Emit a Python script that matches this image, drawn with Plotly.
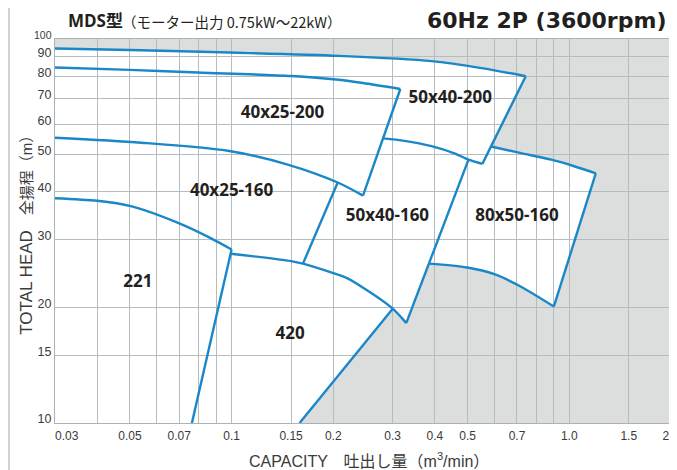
import plotly.graph_objects as go

# ---------------- data (capacity m3/min, head m) ----------------
# 50x40-200 max-head curve
Q_5040_200 = [0.03, 0.05, 0.0985, 0.2077, 0.391, 0.55, 0.743]
H_5040_200 = [94.5, 93.6, 92.2, 90.4, 87.6, 84.0, 80.0]
# 40x25-200 max-head curve
Q_4025_200 = [0.03, 0.05, 0.0795, 0.15, 0.2077, 0.245, 0.316]
H_4025_200 = [84.3, 83.1, 81.8, 80.1, 78.3, 76.8, 74.1]
# 40x25-160 max-head curve (continues as lower limit of 40x25-200)
Q_4025_160 = [0.03, 0.054, 0.0985, 0.1466, 0.2062, 0.245]
H_4025_160 = [55.3, 53.7, 51.1, 47.1, 42.3, 39.1]
# 221 max-head curve
Q_221 = [0.03, 0.04, 0.0503, 0.07, 0.0867, 0.1]
H_221 = [38.5, 37.9, 36.7, 33.1, 30.3, 28.3]
# 420 max-head curve (continues as lower limit of 50x40-160)
Q_420 = [0.0995, 0.15, 0.1627, 0.199, 0.218, 0.2394, 0.3, 0.329]
H_420 = [27.6, 26.4, 26.0, 24.6, 23.9, 22.8, 19.85, 18.2]
# 50x40-160 max-head curve (= lower limit of 50x40-200)
Q_5040_160 = [0.281, 0.325, 0.391, 0.459, 0.503, 0.553]
H_5040_160 = [55.1, 54.3, 52.6, 50.3, 48.5, 47.3]
# 80x50-160 max-head curve
Q_8050_TOP = [0.587, 0.715, 0.885, 1.029, 1.198]
H_8050_TOP = [52.5, 50.5, 48.5, 46.7, 44.7]
# 80x50-160 lower limit
Q_8050_LOW = [0.384, 0.498, 0.6, 0.715, 0.9]
H_8050_LOW = [26.0, 25.4, 24.4, 22.7, 20.1]

# flow-limit edges (end points)
EDGE_5040_200 = ([0.743, 0.553], [80.0, 47.3])
EDGE_4025_200 = ([0.316, 0.245], [74.1, 39.1])
EDGE_4025_160 = ([0.2062, 0.1627], [42.3, 26.0])
EDGE_221 = ([0.1, 0.0763], [28.3, 10.0])
EDGE_420 = ([0.3, 0.159], [19.85, 10.0])
EDGE_5040_160 = ([0.503, 0.329], [48.5, 18.2])
EDGE_8050_160 = ([1.198, 0.9], [44.7, 20.1])

# region labels
REGION_NAMES = ["40x25-200", "50x40-200", "40x25-160", "50x40-160", "80x50-160", "221", "420"]
REGION_Q = [0.1415, 0.444, 0.1, 0.2894, 0.7, 0.0528, 0.149]
REGION_H = [64.0, 69.8, 40.0, 34.4, 34.4, 23.2, 17.0]

# axis grid / tick labels
X_GRID = [0.03, 0.04, 0.05, 0.06, 0.07, 0.08, 0.09, 0.1, 0.15, 0.2, 0.3, 0.4, 0.5,
          0.6, 0.7, 0.8, 0.9, 1.0, 1.5, 2.0]
X_LABELS = ["\u00a0" * 7 + "0.03", "", "0.05", "", "0.07", "", "", "0.1", "0.15", "0.2",
            "0.3", "0.4", "0.5", "", "0.7", "", "", "1.0", "1.5", "2.0"]
Y_GRID = [10, 15, 20, 30, 40, 50, 60, 70, 80, 90, 100]
Y_LABELS = ["10", "15", "20", "30", "40", "50", "60", "70", "80", "90",
            "<span style='font-size:10.5px'>100</span>"]

# ---------------- styling ----------------
BLUE = "#1a87c8"
GRAY_BG = "#dcdede"
GRID = "#b4bcbf"
TXT = "#231f20"
AX_TXT = "#3a3a3a"
LW = 2.4
FONT = "Liberation Sans, Arial, Noto Sans CJK JP, sans-serif"
BOLD = "Open Sans, Noto Sans, Noto Sans CJK JP, sans-serif"

fig = go.Figure()

# white (covered) area as a shape below the grid lines
outline = (list(zip(Q_5040_200, H_5040_200))
           + list(zip(Q_8050_TOP, H_8050_TOP))
           + list(zip(Q_8050_LOW, H_8050_LOW))[::-1]
           + [(EDGE_5040_160[0][1], EDGE_5040_160[1][1]),
              (EDGE_420[0][0], EDGE_420[1][0]),
              (EDGE_420[0][1], EDGE_420[1][1]),
              (X_GRID[0], Y_GRID[0])])
path = "M " + " L ".join(f"{q},{h}" for q, h in outline) + " Z"
fig.add_shape(type="path", path=path, xref="x", yref="y", layer="below",
              fillcolor="white", line=dict(width=0))

curves = [(Q_5040_200, H_5040_200), (Q_4025_200, H_4025_200), (Q_4025_160, H_4025_160),
          (Q_221, H_221), (Q_420, H_420), (Q_5040_160, H_5040_160),
          (Q_8050_TOP, H_8050_TOP), (Q_8050_LOW, H_8050_LOW)]
for q, h in curves:
    fig.add_trace(go.Scatter(x=q, y=h, mode="lines", showlegend=False, hoverinfo="skip",
                             line=dict(color=BLUE, width=LW, shape="spline", smoothing=0.8)))
edges = [EDGE_5040_200, EDGE_4025_200, EDGE_4025_160, EDGE_221, EDGE_420,
         EDGE_5040_160, EDGE_8050_160]
for q, h in edges:
    fig.add_trace(go.Scatter(x=q, y=h, mode="lines", showlegend=False, hoverinfo="skip",
                             line=dict(color=BLUE, width=LW)))

fig.add_trace(go.Scatter(x=REGION_Q, y=REGION_H, mode="text", showlegend=False,
                         text=[f"<b>{n}</b>" for n in REGION_NAMES], hoverinfo="skip",
                         textfont=dict(family=BOLD, size=17, color=TXT)))

# the page adds an 8px body margin, so the figure is 8px smaller than the window
fig.update_layout(
    width=669, height=462,
    margin=dict(l=47, r=6, t=30.5, b=47, autoexpand=False),
    paper_bgcolor="white", plot_bgcolor=GRAY_BG,
    xaxis=dict(type="log", range=[-1.5228787, 0.3012], tickvals=X_GRID, ticktext=X_LABELS,
               automargin=False, ticklabeloverflow="allow",
               showgrid=True, gridcolor=GRID, gridwidth=1, zeroline=False,
               showline=True, linecolor="#a9b3b6", linewidth=1, mirror=True, ticks="",
               ticklabelstandoff=2,
               tickfont=dict(family=FONT, size=12, color=AX_TXT)),
    yaxis=dict(type="log", range=[1, 2], tickvals=Y_GRID, ticktext=Y_LABELS,
               automargin=False, ticklabeloverflow="allow",
               showgrid=True, gridcolor=GRID, gridwidth=1, zeroline=False,
               showline=True, linecolor="#a9b3b6", linewidth=1, mirror=True, ticks="",
               ticklabelshift=-4,
               tickfont=dict(family=FONT, size=12.5, color=AX_TXT)),
)

# axis titles
fig.add_annotation(xref="paper", yref="paper", x=0.51, y=-0.096, xanchor="center", yanchor="middle",
                   text="CAPACITY　吐出し量（m<sup>3</sup>/min）", showarrow=False,
                   font=dict(family=FONT, size=16, color=AX_TXT))
fig.add_annotation(xref="paper", yref="paper", x=-0.0455, y=0.5007, xanchor="center",
                   yanchor="middle", textangle=-90,
                   text="<span style='font-size:17px'>TOTAL HEAD</span>　全揚程（m）",
                   showarrow=False, font=dict(family=FONT, size=15, color=AX_TXT))

# headings
fig.add_annotation(xref="paper", yref="paper", x=0.018, y=1.049, xanchor="left", yanchor="middle",
                   text="<b>MDS型</b>", showarrow=False,
                   font=dict(family=BOLD, size=17, color=TXT))
fig.add_annotation(xref="paper", yref="paper", x=0.1055, y=1.046, xanchor="left", yanchor="middle",
                   text="（モーター出力 0.75kW〜22kW）", showarrow=False,
                   font=dict(family="Noto Sans CJK JP, sans-serif", size=14.5, color=TXT))
fig.add_annotation(xref="paper", yref="paper", x=0.995, y=1.049, xanchor="right", yanchor="middle",
                   text="<b>60Hz 2P (3600rpm)</b>", showarrow=False,
                   font=dict(family="DejaVu Sans, sans-serif", size=22, color=TXT))
fig.add_shape(type="line", xref="paper", yref="paper", x0=-0.0747, x1=-0.0747, y0=-0.13, y1=1.11,
              line=dict(color="#cfd3d3", width=2))

fig.write_html("out.html")
